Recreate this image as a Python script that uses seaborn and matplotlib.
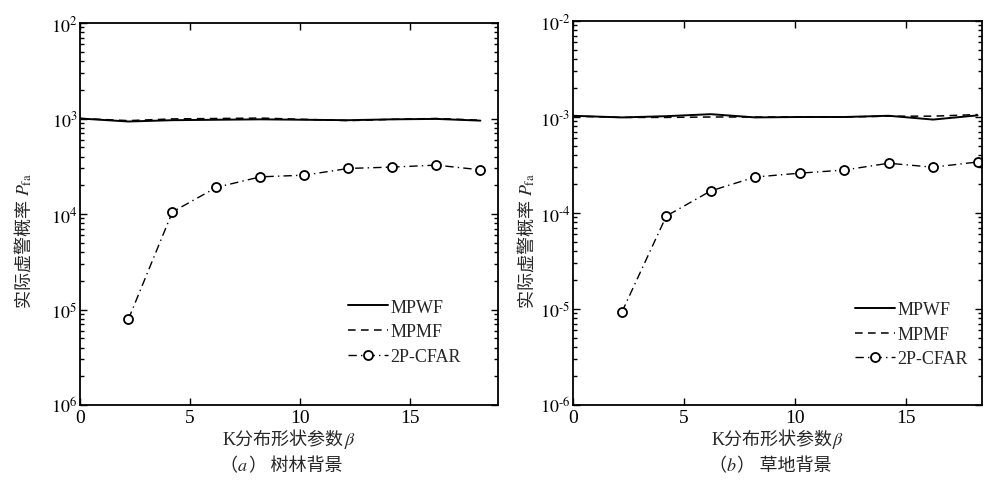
import numpy as np
import pandas as pd
import matplotlib
matplotlib.use("Agg")
import matplotlib.pyplot as plt
import matplotlib.ticker as mticker
import seaborn as sns

# ---------------------------------------------------------------
# data
# ---------------------------------------------------------------
line_x = [0.0, 2.2, 4.2, 6.2, 8.2, 10.2, 12.2, 14.2, 16.2, 18.2]
cfar_x = [2.2, 4.2, 6.2, 8.2, 10.2, 12.2, 14.2, 16.2, 18.2]

# (a) forest background
forest_mpwf = [1.00e-3, 0.93e-3, 0.96e-3, 0.97e-3, 0.98e-3, 0.97e-3, 0.96e-3, 0.98e-3, 0.99e-3, 0.95e-3]
forest_mpmf = [1.00e-3, 0.95e-3, 0.99e-3, 1.00e-3, 1.01e-3, 0.98e-3, 0.95e-3, 0.98e-3, 1.00e-3, 0.96e-3]
forest_cfar = [7.9e-6, 1.05e-4, 1.9e-4, 2.45e-4, 2.55e-4, 3.0e-4, 3.1e-4, 3.25e-4, 2.9e-4]

# (b) grassland background
grass_mpwf = [1.03e-3, 0.99e-3, 1.02e-3, 1.07e-3, 0.99e-3, 1.00e-3, 1.00e-3, 1.03e-3, 0.94e-3, 1.04e-3]
grass_mpmf = [1.02e-3, 0.99e-3, 0.99e-3, 1.00e-3, 1.00e-3, 1.00e-3, 1.00e-3, 1.02e-3, 1.02e-3, 1.06e-3]
grass_cfar = [9.3e-6, 9.3e-5, 1.7e-4, 2.37e-4, 2.6e-4, 2.8e-4, 3.3e-4, 3.0e-4, 3.4e-4]

series_names = ["MPWF", "MPMF", "2P-CFAR"]
caption_letters = ["a", "b"]
caption_texts = ["树林背景", "草地背景"]
xlabel_text = "K分布形状参数"
ylabel_text = "实际虚警概率 "
ytick_vals = [1e-6, 1e-5, 1e-4, 1e-3, 1e-2]
yticklabels_a = ["$10^{6}$", "$10^{5}$", "$10^{4}$", "$10^{3}$", "$10^{2}$"]
yticklabels_b = ["$10^{\\text{-}6}$", "$10^{\\text{-}5}$", "$10^{\\text{-}4}$",
                 "$10^{\\text{-}3}$", "$10^{\\text{-}2}$"]

sns.set_style("ticks")
plt.rcParams["font.family"] = ["Liberation Serif", "Noto Sans CJK SC", "DejaVu Sans"]
plt.rcParams["mathtext.fontset"] = "stix"
plt.rcParams["axes.unicode_minus"] = False

W_PX, H_PX = 989, 481
LABEL_SIZE = 13


def place_pieces(fig, pieces, start_px, other_px, vertical=False, center=False):
    """Lay text pieces one after another (left->right or bottom->top), in pixels from bottom-left."""
    renderer = fig.canvas.get_renderer()
    texts = []
    for s, kw in pieces:
        t = fig.text(0, 0, s, ha="left", va="baseline", rotation=90 if vertical else 0,
                     rotation_mode="anchor", fontsize=LABEL_SIZE, **kw)
        texts.append(t)
    sizes = []
    for t in texts:
        bb = t.get_window_extent(renderer=renderer)
        sizes.append(bb.height if vertical else bb.width)
    pos = start_px - sum(sizes) / 2 if center else start_px
    for t, sz in zip(texts, sizes):
        if vertical:
            t.set_position((other_px / W_PX, pos / H_PX))
        else:
            t.set_position((pos / W_PX, other_px / H_PX))
        pos += sz


def draw_panel(ax, mpwf, mpmf, cfar, yticklabels, xmax, leg_anchor):
    sns.lineplot(x=line_x, y=mpwf, ax=ax, color="black", linewidth=1.4,
                 linestyle="-", label=series_names[0])
    sns.lineplot(x=line_x, y=mpmf, ax=ax, color="black", linewidth=1.1,
                 dashes=False, label=series_names[1]).lines[-1].set_dashes((5, 3.5))
    sns.lineplot(x=cfar_x, y=cfar, ax=ax, color="black", linewidth=1.0,
                 marker="o", markersize=6.5,
                 markerfacecolor="white", markeredgecolor="black",
                 markeredgewidth=1.3, label=series_names[2]).lines[-1].set_dashes((6, 3, 1, 3))

    ax.set_yscale("log")
    ax.set_ylim(1e-6, 1e-2)
    ax.set_xlim(0, xmax)
    ax.set_xticks([0, 5, 10, 15])
    ax.set_yticks(ytick_vals)
    ax.yaxis.set_major_formatter(mticker.FixedFormatter(yticklabels))
    ax.yaxis.set_minor_locator(mticker.LogLocator(base=10, subs=np.arange(2, 10)))
    ax.yaxis.set_minor_formatter(mticker.NullFormatter())

    ax.tick_params(which="both", direction="in", top=True, right=True,
                   labelsize=14, width=1.0, colors="black", pad=3)
    ax.tick_params(axis="y", labelsize=13, pad=2)
    ax.tick_params(which="major", length=5)
    ax.tick_params(which="minor", length=3)
    for sp in ax.spines.values():
        sp.set_linewidth(1.3)
        sp.set_color("black")
    ax.set_xlabel("")
    ax.set_ylabel("")

    ax.legend(loc="upper left", bbox_to_anchor=leg_anchor, frameon=False,
              fontsize=13, handlelength=2.2, handletextpad=0.15,
              labelspacing=0.42, borderaxespad=0, borderpad=0)


fig = plt.figure(figsize=(9.89, 4.81), dpi=100)
ax1 = fig.add_axes([80 / W_PX, 75 / H_PX, 418 / W_PX, 382 / H_PX])
ax2 = fig.add_axes([573 / W_PX, 75 / H_PX, 409 / W_PX, 384 / H_PX])

draw_panel(ax1, forest_mpwf, forest_mpmf, forest_cfar, yticklabels_a, 19, (0.641, 0.278))
draw_panel(ax2, grass_mpwf, grass_mpmf, grass_cfar, yticklabels_b, 18.4, (0.689, 0.27))

fig.canvas.draw()
panels = [(80, 498, 30), (573, 982, 533)]
for (x0, x1, ylab_x), letter, cap in zip(panels, caption_letters, caption_texts):
    xc = (x0 + x1) / 2
    place_pieces(fig, [(xlabel_text, {}), ("$\\beta$", {})], xc, 36, center=True)
    place_pieces(fig, [("（", {}), ("$" + letter + "$", {}), ("）", {}),
                       (" " + cap, {})], xc - 8, 10, center=True)
    place_pieces(fig, [(ylabel_text, {}), ("$P_{\\mathrm{fa}}$", {})], 173, ylab_x,
                 vertical=True)

fig.savefig("out.png", dpi=100)
